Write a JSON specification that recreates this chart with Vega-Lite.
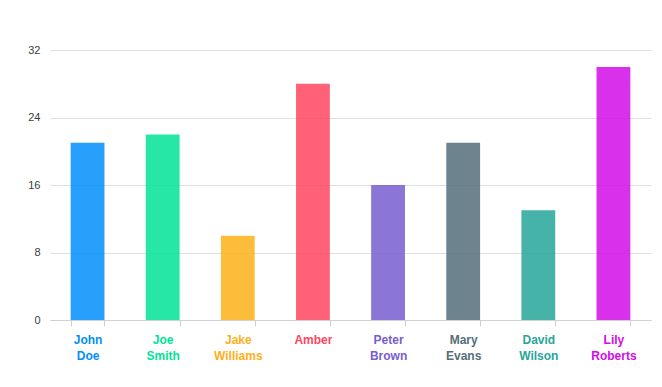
{
  "$schema": "https://vega.github.io/schema/vega-lite/v6.json",
  "autosize": "none",
  "width": 601,
  "height": 270,
  "padding": {"left": 50, "top": 50, "right": 11, "bottom": 67},
  "background": "white",
  "data": {"values": [
    {"name": "John Doe", "value": 21},
    {"name": "Joe Smith", "value": 22},
    {"name": "Jake Williams", "value": 10},
    {"name": "Amber", "value": 28},
    {"name": "Peter Brown", "value": 16},
    {"name": "Mary Evans", "value": 21},
    {"name": "David Wilson", "value": 13},
    {"name": "Lily Roberts", "value": 30}
  ]},
  "mark": {"type": "bar", "opacity": 0.85},
  "encoding": {
    "x": {
      "field": "name", "type": "nominal", "sort": null, "title": null,
      "scale": {"paddingInner": 0.55, "paddingOuter": 0.275},
      "axis": {
        "labelAngle": 0,
        "labelExpr": "split(datum.label, ' ')",
        "labelFont": "Liberation Sans",
        "labelFontSize": 12,
        "labelFontWeight": "bold",
        "labelLineHeight": 16,
        "labelPadding": 8,
        "domainColor": "#d0d0d0",
        "tickColor": "#d0d0d0",
        "tickBand": "extent",
        "tickSize": 6,
        "grid": false,
        "labelColor": {
          "condition": [
            {"test": "datum.value === 'John Doe'", "value": "#008FFB"},
            {"test": "datum.value === 'Joe Smith'", "value": "#00E396"},
            {"test": "datum.value === 'Jake Williams'", "value": "#FEB019"},
            {"test": "datum.value === 'Amber'", "value": "#FF4560"},
            {"test": "datum.value === 'Peter Brown'", "value": "#775DD0"},
            {"test": "datum.value === 'Mary Evans'", "value": "#546E7A"},
            {"test": "datum.value === 'David Wilson'", "value": "#26a69a"}
          ],
          "value": "#D10CE8"
        }
      }
    },
    "y": {
      "field": "value", "type": "quantitative", "title": null,
      "scale": {"domain": [0, 32], "nice": false},
      "axis": {
        "values": [0, 8, 16, 24, 32],
        "domain": false,
        "ticks": false,
        "labelPadding": 10,
        "labelFont": "Liberation Sans",
        "labelFontSize": 11,
        "labelColor": "#373d3f",
        "gridColor": "#e0e0e0"
      }
    },
    "color": {
      "field": "name", "type": "nominal", "sort": null, "legend": null,
      "scale": {"range": ["#008FFB", "#00E396", "#FEB019", "#FF4560", "#775DD0", "#546E7A", "#26a69a", "#D10CE8"]}
    }
  },
  "config": {"view": {"stroke": null}}
}
